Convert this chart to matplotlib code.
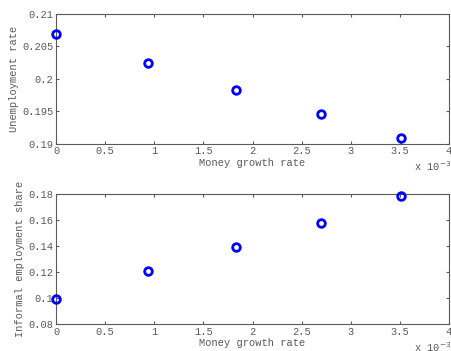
import numpy as np
import matplotlib.pyplot as plt
from matplotlib.ticker import FuncFormatter

# data
money_growth = [0.0, 0.00094, 0.001835, 0.002694, 0.003515]
unemployment = [0.20696, 0.20244, 0.19828, 0.19453, 0.19088]
informal_share = [0.0992, 0.1208, 0.1395, 0.1582, 0.1787]

xticks = [0, 0.0005, 0.001, 0.0015, 0.002, 0.0025, 0.003, 0.0035, 0.004]
yticks_top = [0.19, 0.195, 0.2, 0.205, 0.21]
yticks_bot = [0.08, 0.1, 0.12, 0.14, 0.16, 0.18]

grey = '#5a5a5a'
plt.rcParams['font.family'] = ['Liberation Mono', 'DejaVu Sans Mono']
plt.rcParams['font.size'] = 7.5

fig = plt.figure(figsize=(4.51, 3.51), dpi=100)
ax1 = fig.add_axes([0.1242, 0.5906, 0.8714, 0.3695])
ax2 = fig.add_axes([0.1242, 0.0761, 0.8714, 0.3704])

for ax, y, yt, ylab in [(ax1, unemployment, yticks_top, 'Unemployment rate'),
                        (ax2, informal_share, yticks_bot, 'Informal employment share')]:
    ax.plot(money_growth, y, 'o', markerfacecolor='none', markeredgecolor='#0000ff',
            markersize=5.5, markeredgewidth=2, clip_on=False, zorder=5)
    ax.set_xlim(0, 0.004)
    ax.set_ylim(yt[0], yt[-1])
    ax.set_xticks(xticks)
    ax.set_yticks(yt)
    ax.xaxis.set_major_formatter(FuncFormatter(lambda v, p: '%g' % round(v * 1000, 4)))
    ax.yaxis.set_major_formatter(FuncFormatter(lambda v, p: '%g' % round(v, 4)))
    ax.tick_params(direction='in', length=2.2, width=0.8, top=True, right=True,
                   colors=grey, labelcolor=grey, pad=2)
    for s in ax.spines.values():
        s.set_color(grey)
        s.set_linewidth(0.8)
    ax.set_xlabel('Money growth rate', color=grey, labelpad=1)
    ax.set_ylabel(ylab, color=grey, labelpad=2)
    ax.text(1.005, -0.172, 'x 10$^{-3}$', transform=ax.transAxes, color=grey,
            ha='right', va='center')

fig.savefig('out.png', dpi=100)
